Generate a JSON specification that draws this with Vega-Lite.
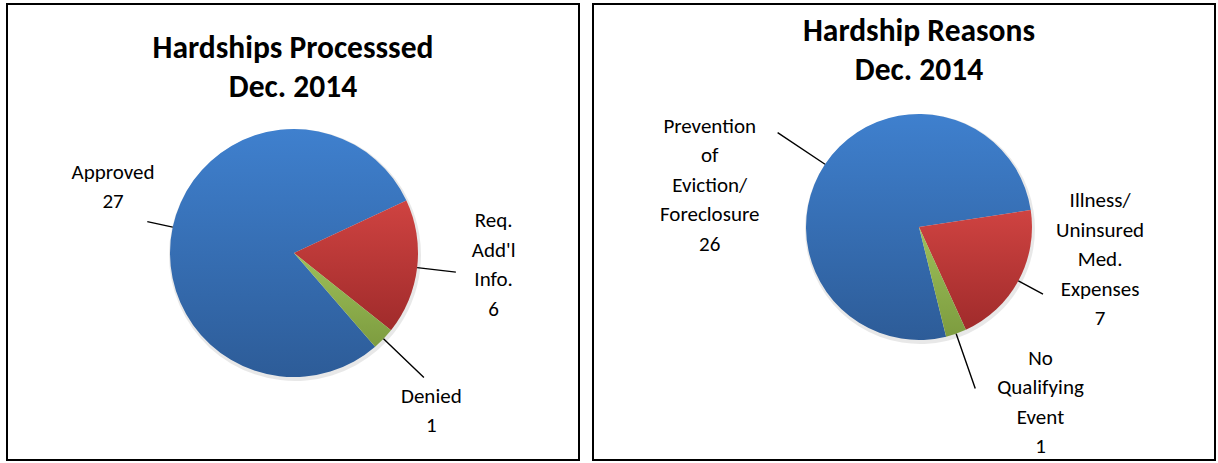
{
  "$schema": "https://vega.github.io/schema/vega-lite/v6.json",
  "background": "white",
  "padding": {"left": 6, "top": 3, "right": 4, "bottom": 2},
  "spacing": 12,
  "config": {
    "view": {"stroke": "#000000", "strokeWidth": 2},
    "text": {"font": "Carlito, Lato", "fontSize": 21, "lineHeight": 29.5, "lineBreak": "\n", "align": "center", "baseline": "middle", "color": "#000000"},
    "title": {"font": "Carlito, Lato", "fontSize": 31.5, "fontWeight": "bold", "lineHeight": 39, "color": "#000000", "anchor": "middle", "baseline": "bottom"}
  },
  "hconcat": [
    {
      "width": 572,
      "height": 456,
      "view": {"stroke": "#000000", "strokeWidth": 2},
      "title": {"text": ["Hardships Processsed", "Dec. 2014"], "offset": -99},
      "data": {"values": [
        {"cat": "Approved", "value": 27, "order": 1, "label": "Approved\n27"},
        {"cat": "Req. Add'l Info.", "value": 6, "order": 2, "label": "Req.\nAdd'l\nInfo.\n6"},
        {"cat": "Denied", "value": 1, "order": 3, "label": "Denied\n1"}
      ]},
      "layer": [
        {
          "mark": {"type": "arc", "radius": 126, "xOffset": 2, "yOffset": 23, "color": "#000000", "opacity": 0.09},
          "encoding": {
            "theta": {"field": "value", "type": "quantitative", "stack": true, "scale": {"range": [2.428, 8.711], "nice": false, "zero": true}},
            "order": {"field": "order", "type": "quantitative"}
          }
        },
        {
          "transform": [
            {"stack": "value", "groupby": [], "sort": [{"field": "order", "order": "ascending"}], "as": ["v0", "v1"]},
            {"filter": "datum.cat === 'Approved'"}
          ],
          "mark": {"type": "arc", "radius": 124, "xOffset": 1, "yOffset": 21,
            "color": {"gradient": "linear", "x1": 0, "y1": 0, "x2": 0, "y2": 1, "stops": [{"offset": 0, "color": "#3F80CE"}, {"offset": 1, "color": "#2D5C98"}]}},
          "encoding": {
            "theta": {"field": "v0", "type": "quantitative", "scale": {"range": [2.428, 8.711], "nice": false, "zero": true}},
            "theta2": {"field": "v1"}
          }
        },
        {
          "transform": [
            {"stack": "value", "groupby": [], "sort": [{"field": "order", "order": "ascending"}], "as": ["v0", "v1"]},
            {"filter": "datum.cat === \"Req. Add'l Info.\""}
          ],
          "mark": {"type": "arc", "radius": 124, "xOffset": 1, "yOffset": 21,
            "color": {"gradient": "linear", "x1": 0, "y1": 0, "x2": 0, "y2": 1, "stops": [{"offset": 0, "color": "#CF4341"}, {"offset": 1, "color": "#A02B2B"}]}},
          "encoding": {
            "theta": {"field": "v0", "type": "quantitative", "scale": {"range": [2.428, 8.711], "nice": false, "zero": true}},
            "theta2": {"field": "v1"}
          }
        },
        {
          "transform": [
            {"stack": "value", "groupby": [], "sort": [{"field": "order", "order": "ascending"}], "as": ["v0", "v1"]},
            {"filter": "datum.cat === 'Denied'"}
          ],
          "mark": {"type": "arc", "radius": 124, "xOffset": 1, "yOffset": 21,
            "color": {"gradient": "linear", "x1": 0, "y1": 0, "x2": 0, "y2": 1, "stops": [{"offset": 0, "color": "#9DC05A"}, {"offset": 1, "color": "#7D9C3F"}]}},
          "encoding": {
            "theta": {"field": "v0", "type": "quantitative", "scale": {"range": [2.428, 8.711], "nice": false, "zero": true}},
            "theta2": {"field": "v1"}
          }
        },
        {
          "transform": [
            {"stack": "value", "groupby": [], "sort": [{"field": "order", "order": "ascending"}], "as": ["v0", "v1"]},
            {"fold": ["v0", "v1"], "as": ["edge", "ang"]},
            {"aggregate": [{"op": "mean", "field": "ang", "as": "mid"}], "groupby": ["cat"]},
            {"filter": "datum.cat === 'Approved'"}
          ],
          "mark": {"type": "arc", "radius": 150, "radius2": 124, "xOffset": 1, "yOffset": 21, "fillOpacity": 0, "stroke": "#000000", "strokeWidth": 1.4},
          "encoding": {
            "theta": {"field": "mid", "type": "quantitative", "scale": {"range": [2.428, 8.711], "nice": false, "zero": true}},
            "theta2": {"field": "mid"}
          }
        },
        {
          "transform": [
            {"stack": "value", "groupby": [], "sort": [{"field": "order", "order": "ascending"}], "as": ["v0", "v1"]},
            {"fold": ["v0", "v1"], "as": ["edge", "ang"]},
            {"aggregate": [{"op": "mean", "field": "ang", "as": "mid"}], "groupby": ["cat"]},
            {"filter": "datum.cat === \"Req. Add'l Info.\""}
          ],
          "mark": {"type": "arc", "radius": 163, "radius2": 124, "xOffset": 1, "yOffset": 21, "fillOpacity": 0, "stroke": "#000000", "strokeWidth": 1.4},
          "encoding": {
            "theta": {"field": "mid", "type": "quantitative", "scale": {"range": [2.428, 8.711], "nice": false, "zero": true}},
            "theta2": {"field": "mid"}
          }
        },
        {
          "transform": [
            {"stack": "value", "groupby": [], "sort": [{"field": "order", "order": "ascending"}], "as": ["v0", "v1"]},
            {"fold": ["v0", "v1"], "as": ["edge", "ang"]},
            {"aggregate": [{"op": "mean", "field": "ang", "as": "mid"}], "groupby": ["cat"]},
            {"filter": "datum.cat === 'Denied'"}
          ],
          "mark": {"type": "arc", "radius": 180, "radius2": 124, "xOffset": 1, "yOffset": 21, "fillOpacity": 0, "stroke": "#000000", "strokeWidth": 1.4},
          "encoding": {
            "theta": {"field": "mid", "type": "quantitative", "scale": {"range": [2.428, 8.711], "nice": false, "zero": true}},
            "theta2": {"field": "mid"}
          }
        },
        {
          "transform": [
            {"stack": "value", "groupby": [], "sort": [{"field": "order", "order": "ascending"}], "as": ["v0", "v1"]},
            {"fold": ["v0", "v1"], "as": ["edge", "ang"]},
            {"aggregate": [{"op": "mean", "field": "ang", "as": "mid"}], "groupby": ["cat", "label"]},
            {"filter": "datum.cat === 'Approved'"}
          ],
          "mark": {"type": "text", "radius": 185, "xOffset": 1, "yOffset": 21, "dx": 0, "dy": -41.75},
          "encoding": {
            "theta": {"field": "mid", "type": "quantitative", "scale": {"range": [2.428, 8.711], "nice": false, "zero": true}},
            "text": {"field": "label", "type": "nominal"}
          }
        },
        {
          "transform": [
            {"stack": "value", "groupby": [], "sort": [{"field": "order", "order": "ascending"}], "as": ["v0", "v1"]},
            {"fold": ["v0", "v1"], "as": ["edge", "ang"]},
            {"aggregate": [{"op": "mean", "field": "ang", "as": "mid"}], "groupby": ["cat", "label"]},
            {"filter": "datum.cat === \"Req. Add'l Info.\""}
          ],
          "mark": {"type": "text", "radius": 201, "xOffset": 1, "yOffset": 21, "dx": 0, "dy": -55.25},
          "encoding": {
            "theta": {"field": "mid", "type": "quantitative", "scale": {"range": [2.428, 8.711], "nice": false, "zero": true}},
            "text": {"field": "label", "type": "nominal"}
          }
        },
        {
          "transform": [
            {"stack": "value", "groupby": [], "sort": [{"field": "order", "order": "ascending"}], "as": ["v0", "v1"]},
            {"fold": ["v0", "v1"], "as": ["edge", "ang"]},
            {"aggregate": [{"op": "mean", "field": "ang", "as": "mid"}], "groupby": ["cat", "label"]},
            {"filter": "datum.cat === 'Denied'"}
          ],
          "mark": {"type": "text", "radius": 200, "xOffset": 1, "yOffset": 21, "dx": -7, "dy": 5.25},
          "encoding": {
            "theta": {"field": "mid", "type": "quantitative", "scale": {"range": [2.428, 8.711], "nice": false, "zero": true}},
            "text": {"field": "label", "type": "nominal"}
          }
        }
      ]
    },
    {
      "width": 622,
      "height": 456,
      "view": {"stroke": "#000000", "strokeWidth": 2},
      "title": {"text": ["Hardship Reasons", "Dec. 2014"], "offset": -82, "dx": 15},
      "data": {"values": [
        {"cat": "Prevention of Eviction/Foreclosure", "value": 26, "order": 1, "label": "Prevention\nof\nEviction/\nForeclosure\n26"},
        {"cat": "Illness/Uninsured Med. Expenses", "value": 7, "order": 2, "label": "Illness/\nUninsured\nMed.\nExpenses\n7"},
        {"cat": "No Qualifying Event", "value": 1, "order": 3, "label": "No\nQualifying\nEvent\n1"}
      ]},
      "layer": [
        {
          "mark": {"type": "arc", "radius": 115, "xOffset": 16, "yOffset": -3, "color": "#000000", "opacity": 0.09},
          "encoding": {
            "theta": {"field": "value", "type": "quantitative", "stack": true, "scale": {"range": [2.899, 9.182], "nice": false, "zero": true}},
            "order": {"field": "order", "type": "quantitative"}
          }
        },
        {
          "transform": [
            {"stack": "value", "groupby": [], "sort": [{"field": "order", "order": "ascending"}], "as": ["v0", "v1"]},
            {"filter": "datum.cat === 'Prevention of Eviction/Foreclosure'"}
          ],
          "mark": {"type": "arc", "radius": 113, "xOffset": 15, "yOffset": -5,
            "color": {"gradient": "linear", "x1": 0, "y1": 0, "x2": 0, "y2": 1, "stops": [{"offset": 0, "color": "#3F80CE"}, {"offset": 1, "color": "#2D5C98"}]}},
          "encoding": {
            "theta": {"field": "v0", "type": "quantitative", "scale": {"range": [2.899, 9.182], "nice": false, "zero": true}},
            "theta2": {"field": "v1"}
          }
        },
        {
          "transform": [
            {"stack": "value", "groupby": [], "sort": [{"field": "order", "order": "ascending"}], "as": ["v0", "v1"]},
            {"filter": "datum.cat === 'Illness/Uninsured Med. Expenses'"}
          ],
          "mark": {"type": "arc", "radius": 113, "xOffset": 15, "yOffset": -5,
            "color": {"gradient": "linear", "x1": 0, "y1": 0, "x2": 0, "y2": 1, "stops": [{"offset": 0, "color": "#CF4341"}, {"offset": 1, "color": "#A02B2B"}]}},
          "encoding": {
            "theta": {"field": "v0", "type": "quantitative", "scale": {"range": [2.899, 9.182], "nice": false, "zero": true}},
            "theta2": {"field": "v1"}
          }
        },
        {
          "transform": [
            {"stack": "value", "groupby": [], "sort": [{"field": "order", "order": "ascending"}], "as": ["v0", "v1"]},
            {"filter": "datum.cat === 'No Qualifying Event'"}
          ],
          "mark": {"type": "arc", "radius": 113, "xOffset": 15, "yOffset": -5,
            "color": {"gradient": "linear", "x1": 0, "y1": 0, "x2": 0, "y2": 1, "stops": [{"offset": 0, "color": "#9DC05A"}, {"offset": 1, "color": "#7D9C3F"}]}},
          "encoding": {
            "theta": {"field": "v0", "type": "quantitative", "scale": {"range": [2.899, 9.182], "nice": false, "zero": true}},
            "theta2": {"field": "v1"}
          }
        },
        {
          "transform": [
            {"stack": "value", "groupby": [], "sort": [{"field": "order", "order": "ascending"}], "as": ["v0", "v1"]},
            {"fold": ["v0", "v1"], "as": ["edge", "ang"]},
            {"aggregate": [{"op": "mean", "field": "ang", "as": "mid"}], "groupby": ["cat"]},
            {"filter": "datum.cat === 'Prevention of Eviction/Foreclosure'"}
          ],
          "mark": {"type": "arc", "radius": 170, "radius2": 113, "xOffset": 15, "yOffset": -5, "fillOpacity": 0, "stroke": "#000000", "strokeWidth": 1.4},
          "encoding": {
            "theta": {"field": "mid", "type": "quantitative", "scale": {"range": [2.899, 9.182], "nice": false, "zero": true}},
            "theta2": {"field": "mid"}
          }
        },
        {
          "transform": [
            {"stack": "value", "groupby": [], "sort": [{"field": "order", "order": "ascending"}], "as": ["v0", "v1"]},
            {"fold": ["v0", "v1"], "as": ["edge", "ang"]},
            {"aggregate": [{"op": "mean", "field": "ang", "as": "mid"}], "groupby": ["cat"]},
            {"filter": "datum.cat === 'Illness/Uninsured Med. Expenses'"}
          ],
          "mark": {"type": "arc", "radius": 141, "radius2": 113, "xOffset": 15, "yOffset": -5, "fillOpacity": 0, "stroke": "#000000", "strokeWidth": 1.4},
          "encoding": {
            "theta": {"field": "mid", "type": "quantitative", "scale": {"range": [2.899, 9.182], "nice": false, "zero": true}},
            "theta2": {"field": "mid"}
          }
        },
        {
          "transform": [
            {"stack": "value", "groupby": [], "sort": [{"field": "order", "order": "ascending"}], "as": ["v0", "v1"]},
            {"fold": ["v0", "v1"], "as": ["edge", "ang"]},
            {"aggregate": [{"op": "mean", "field": "ang", "as": "mid"}], "groupby": ["cat"]},
            {"filter": "datum.cat === 'No Qualifying Event'"}
          ],
          "mark": {"type": "arc", "radius": 171, "radius2": 113, "xOffset": 15, "yOffset": -5, "fillOpacity": 0, "stroke": "#000000", "strokeWidth": 1.4},
          "encoding": {
            "theta": {"field": "mid", "type": "quantitative", "scale": {"range": [2.899, 9.182], "nice": false, "zero": true}},
            "theta2": {"field": "mid"}
          }
        },
        {
          "transform": [
            {"stack": "value", "groupby": [], "sort": [{"field": "order", "order": "ascending"}], "as": ["v0", "v1"]},
            {"fold": ["v0", "v1"], "as": ["edge", "ang"]},
            {"aggregate": [{"op": "mean", "field": "ang", "as": "mid"}], "groupby": ["cat", "label"]},
            {"filter": "datum.cat === 'Prevention of Eviction/Foreclosure'"}
          ],
          "mark": {"type": "text", "radius": 200, "xOffset": 15, "yOffset": -5, "dx": -43, "dy": 11},
          "encoding": {
            "theta": {"field": "mid", "type": "quantitative", "scale": {"range": [2.899, 9.182], "nice": false, "zero": true}},
            "text": {"field": "label", "type": "nominal"}
          }
        },
        {
          "transform": [
            {"stack": "value", "groupby": [], "sort": [{"field": "order", "order": "ascending"}], "as": ["v0", "v1"]},
            {"fold": ["v0", "v1"], "as": ["edge", "ang"]},
            {"aggregate": [{"op": "mean", "field": "ang", "as": "mid"}], "groupby": ["cat", "label"]},
            {"filter": "datum.cat === 'Illness/Uninsured Med. Expenses'"}
          ],
          "mark": {"type": "text", "radius": 190, "xOffset": 15, "yOffset": -5, "dx": 14, "dy": -116},
          "encoding": {
            "theta": {"field": "mid", "type": "quantitative", "scale": {"range": [2.899, 9.182], "nice": false, "zero": true}},
            "text": {"field": "label", "type": "nominal"}
          }
        },
        {
          "transform": [
            {"stack": "value", "groupby": [], "sort": [{"field": "order", "order": "ascending"}], "as": ["v0", "v1"]},
            {"fold": ["v0", "v1"], "as": ["edge", "ang"]},
            {"aggregate": [{"op": "mean", "field": "ang", "as": "mid"}], "groupby": ["cat", "label"]},
            {"filter": "datum.cat === 'No Qualifying Event'"}
          ],
          "mark": {"type": "text", "radius": 190, "xOffset": 15, "yOffset": -5, "dx": 59, "dy": -47.5},
          "encoding": {
            "theta": {"field": "mid", "type": "quantitative", "scale": {"range": [2.899, 9.182], "nice": false, "zero": true}},
            "text": {"field": "label", "type": "nominal"}
          }
        }
      ]
    }
  ]
}
